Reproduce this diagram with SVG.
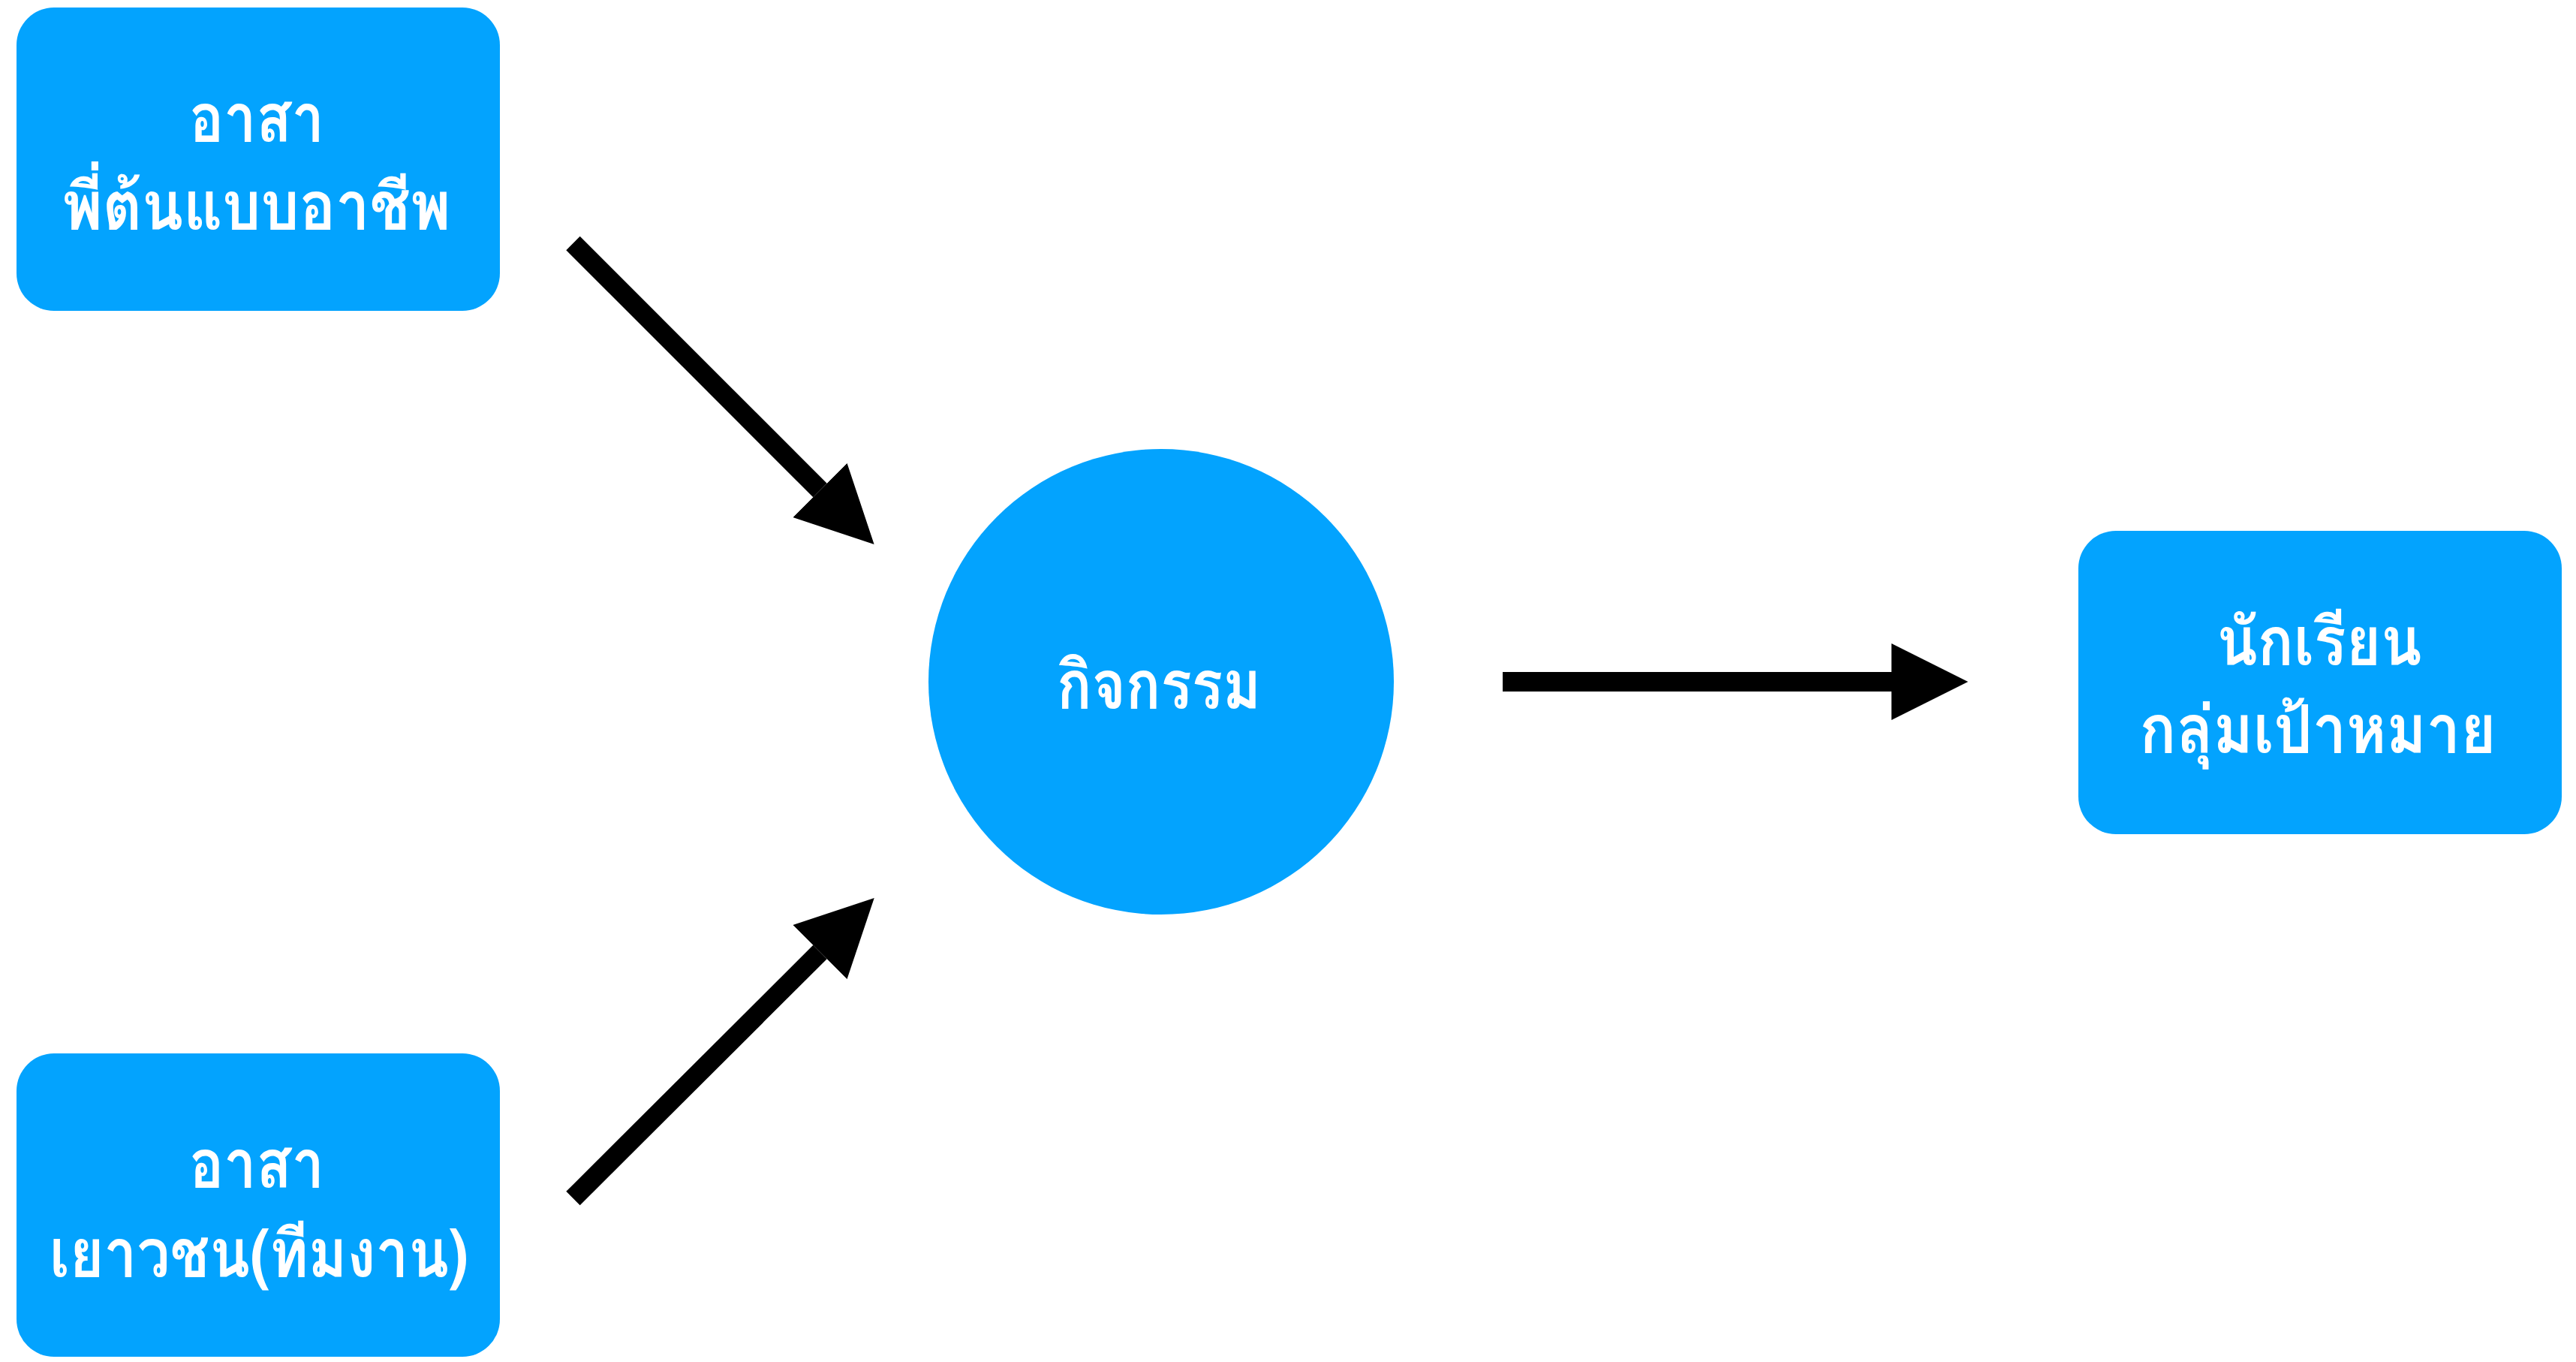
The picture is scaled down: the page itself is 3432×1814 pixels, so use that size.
<svg xmlns="http://www.w3.org/2000/svg" width="3432" height="1814" viewBox="0 0 3432 1814">
  <style>
    .node { fill: #03A3FE; }
    .label { fill: #FFFFFF; font-family: "Thonburi", "Loma", "Noto Sans Thai Looped", "Noto Sans Thai UI", "Noto Sans Thai", "Noto Sans", sans-serif; font-weight: bold; font-size: 88px; text-anchor: middle; }
    .conn { stroke: #000000; stroke-width: 26; fill: none; }
  </style>
  <defs>
    <marker id="head" markerUnits="userSpaceOnUse" markerWidth="102" markerHeight="102" viewBox="0 0 101 101" refX="0" refY="50.5" orient="auto">
      <path d="M0,0 L101,50.5 L0,101 Z" fill="#000000"/>
    </marker>
  </defs>
  <rect width="3432" height="1814" fill="#FFFFFF"/>
  <g id="connectors">
    <line class="conn" x1="763.5" y1="324" x2="1092.5" y2="653" marker-end="url(#head)"/>
    <line class="conn" x1="763.5" y1="1596" x2="1092.5" y2="1268" marker-end="url(#head)"/>
    <line class="conn" x1="2002" y1="908" x2="2520" y2="908" marker-end="url(#head)"/>
  </g>
  <g id="node-mentor">
    <rect class="node" x="22" y="10" width="644" height="404" rx="50" ry="50"/>
    <text class="label" x="342" y="188" textLength="180" lengthAdjust="spacingAndGlyphs">อาสา</text>
    <text class="label" x="342" y="305" textLength="517" lengthAdjust="spacingAndGlyphs">พี่ต้นแบบอาชีพ</text>
  </g>
  <g id="node-youth">
    <rect class="node" x="22" y="1403" width="644" height="404" rx="50" ry="50"/>
    <text class="label" x="342" y="1581" textLength="180" lengthAdjust="spacingAndGlyphs">อาสา</text>
    <text class="label" x="345" y="1700" textLength="558" lengthAdjust="spacingAndGlyphs">เยาวชน(ทีมงาน)</text>
  </g>
  <g id="node-activity">
    <circle class="node" cx="1547" cy="908" r="310"/>
    <text class="label" x="1544" y="943" textLength="272" lengthAdjust="spacingAndGlyphs">กิจกรรม</text>
  </g>
  <g id="node-students">
    <rect class="node" x="2769" y="707" width="644" height="404" rx="50" ry="50"/>
    <text class="label" x="3090" y="885" textLength="273" lengthAdjust="spacingAndGlyphs">นักเรียน</text>
    <text class="label" x="3088" y="1002" textLength="475" lengthAdjust="spacingAndGlyphs">กลุ่มเป้าหมาย</text>
  </g>
</svg>
